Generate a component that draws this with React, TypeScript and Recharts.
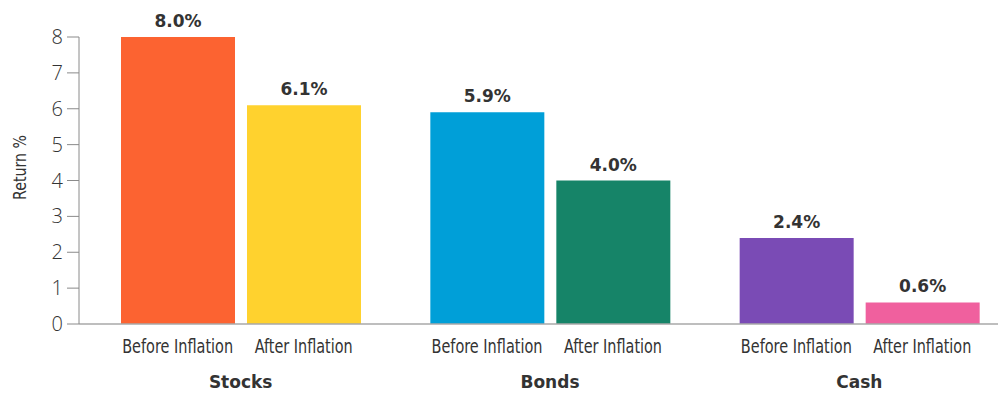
import React from 'react';
import { BarChart, Bar, XAxis, YAxis, Cell, LabelList } from 'recharts';

const categories = ['Stocks', 'Bonds', 'Cash'];
const beforeInflation = [8.0, 5.9, 2.4];
const afterInflation = [6.1, 4.0, 0.6];
const beforeColors = ['#FC6331', '#009FD8', '#7A4BB5'];
const afterColors = ['#FFD22E', '#168468', '#F0609E'];
const barLabels = ['Before Inflation', 'After Inflation'];
const yTicks = [0, 1, 2, 3, 4, 5, 6, 7, 8];

const data = categories.map((name, i) => ({
  name,
  before: beforeInflation[i],
  after: afterInflation[i],
}));

const BAR_SIZE = 114;
const BAR_GAP = 12;
const TEXT = '#333333';
const AXIS = '#8a8a8a';
const NARROW = '"Liberation Sans Narrow", "DejaVu Sans Condensed", "Liberation Sans", sans-serif';
const SANS = '"Open Sans", "Noto Sans", sans-serif';
const WIDE_BOLD = '"DejaVu Sans", "Open Sans", sans-serif';

// Two sub labels under the bars, then the asset class name below them
function GroupTick(props: any) {
  const { x, y, payload } = props;
  const shift = (BAR_SIZE + BAR_GAP) / 2;
  return (
    <g>
      <text
        x={x - shift}
        y={y + 29}
        textAnchor="middle"
        fontFamily={NARROW}
        fontSize={19}
        fill={TEXT}
        textLength={111}
        lengthAdjust="spacingAndGlyphs"
      >
        {barLabels[0]}
      </text>
      <text
        x={x + shift}
        y={y + 29}
        textAnchor="middle"
        fontFamily={NARROW}
        fontSize={19}
        fill={TEXT}
        textLength={98}
        lengthAdjust="spacingAndGlyphs"
      >
        {barLabels[1]}
      </text>
      <text
        x={x}
        y={y + 64}
        textAnchor="middle"
        fontFamily={WIDE_BOLD}
        fontSize={17}
        fontWeight={700}
        fill={TEXT}
      >
        {payload.value}
      </text>
    </g>
  );
}

function YTitle(props: any) {
  const vb = props.viewBox || { x: 0, y: 0, width: 0, height: 0 };
  const cx = vb.x + 12;
  const cy = vb.y + vb.height / 2 - 13;
  return (
    <text
      x={cx}
      y={cy}
      transform={`rotate(-90, ${cx}, ${cy})`}
      textAnchor="middle"
      dominantBaseline="central"
      fontFamily={NARROW}
      fontSize={17}
      fill={TEXT}
      textLength={65}
      lengthAdjust="spacingAndGlyphs"
    >
      Return %
    </text>
  );
}

const valueLabel = {
  fontFamily: WIDE_BOLD,
  fontSize: 17,
  fontWeight: 700,
  fill: TEXT,
};

const pct = (v: any) => `${Number(v).toFixed(1)}%`;

export default function App() {
  return (
    <BarChart
      width={998}
      height={385}
      data={data}
      margin={{ top: 29, right: 0, left: 0, bottom: 0 }}
      barSize={BAR_SIZE}
      barGap={BAR_GAP}
    >
      <XAxis
        dataKey="name"
        height={69}
        padding={{ left: 7, right: -8 }}
        axisLine={{ stroke: '#a8a8a8', strokeWidth: 1.5 }}
        tickLine={false}
        tickSize={0}
        tickMargin={0}
        tick={<GroupTick />}
        interval={0}
      />
      <YAxis
        width={71}
        domain={[0, 8]}
        ticks={yTicks}
        interval={0}
        axisLine={{ stroke: AXIS, strokeWidth: 1 }}
        tickLine={{ stroke: AXIS, strokeWidth: 1 }}
        tickSize={12}
        tickMargin={4}
        tick={{ fontFamily: SANS, fontSize: 20, fontWeight: 300, fill: TEXT }}
        label={<YTitle />}
      />
      <Bar dataKey="before" isAnimationActive={false}>
        {data.map((_, i) => (
          <Cell key={`b-${i}`} fill={beforeColors[i]} />
        ))}
        <LabelList dataKey="before" position="top" offset={10} formatter={pct} style={valueLabel} />
      </Bar>
      <Bar dataKey="after" isAnimationActive={false}>
        {data.map((_, i) => (
          <Cell key={`a-${i}`} fill={afterColors[i]} />
        ))}
        <LabelList dataKey="after" position="top" offset={10} formatter={pct} style={valueLabel} />
      </Bar>
    </BarChart>
  );
}
